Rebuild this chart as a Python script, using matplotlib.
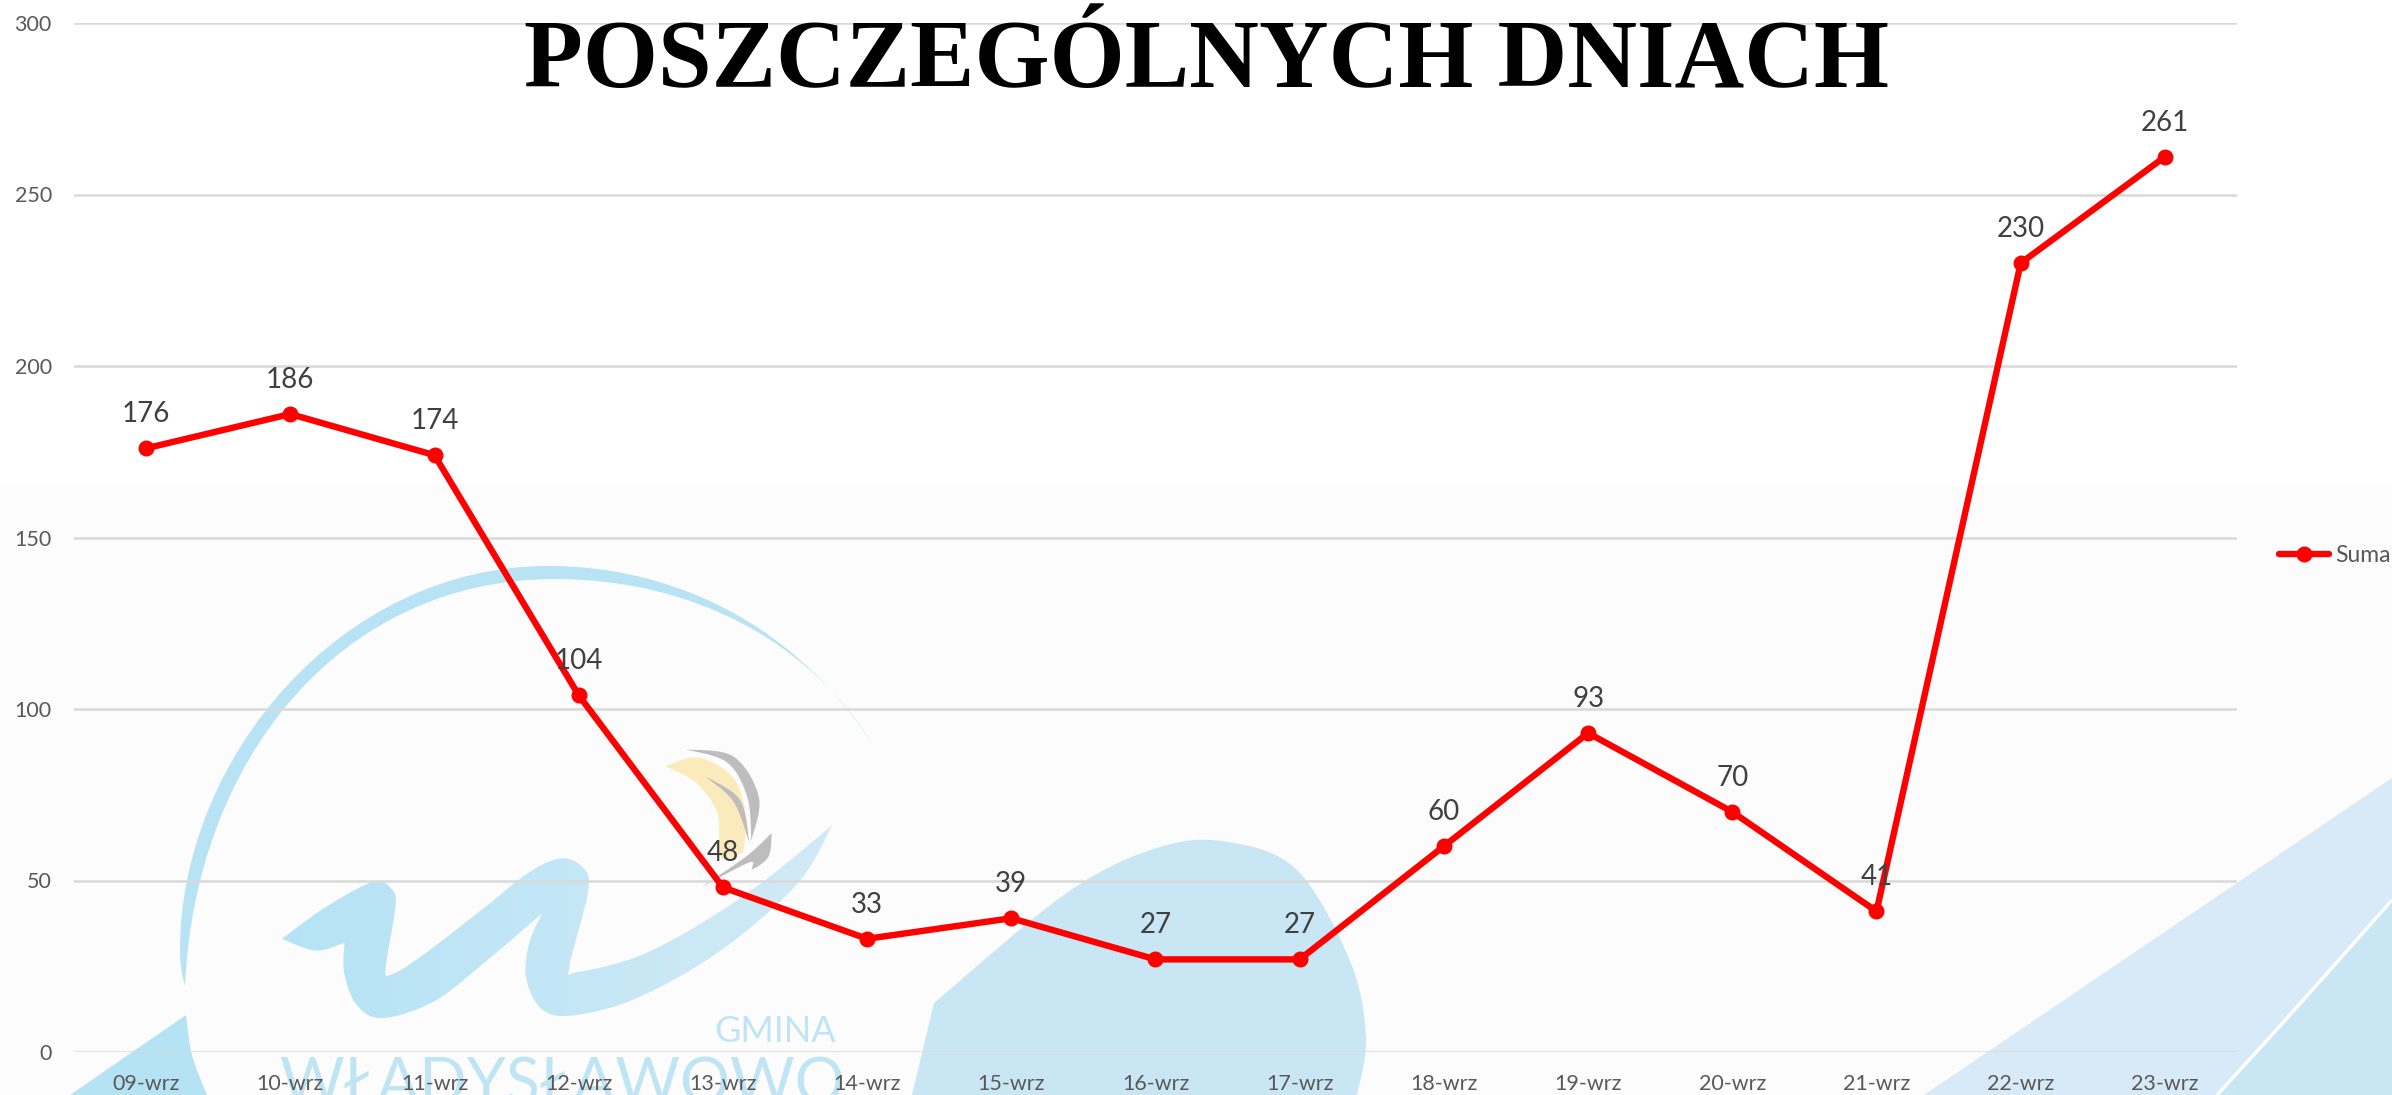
import numpy as np
import matplotlib.pyplot as plt
from matplotlib.patches import PathPatch, Polygon
from matplotlib.path import Path
from matplotlib.colors import LinearSegmentedColormap

FIG_W, FIG_H = 2392, 1095

days = ['09-wrz', '10-wrz', '11-wrz', '12-wrz', '13-wrz', '14-wrz', '15-wrz', '16-wrz',
        '17-wrz', '18-wrz', '19-wrz', '20-wrz', '21-wrz', '22-wrz', '23-wrz']
suma = [176, 186, 174, 104, 48, 33, 39, 27, 27, 60, 93, 70, 41, 230, 261]
y_ticks = [0, 50, 100, 150, 200, 250, 300]

title_text = 'POSZCZEGÓLNYCH DNIACH'
series_name = 'Suma'

plt.rcParams['font.family'] = ['Lato', 'DejaVu Sans']


def smooth(points, n=16):
    """Catmull-Rom through the points of an open stroke"""
    p = np.array([points[0]] + list(points) + [points[-1]], dtype=float)
    out = []
    for i in range(1, len(p) - 2):
        for t in np.linspace(0, 1, n, endpoint=False):
            out.append(0.5 * (2 * p[i] + (p[i + 1] - p[i - 1]) * t
                              + (2 * p[i - 1] - 5 * p[i] + 4 * p[i + 1] - p[i + 2]) * t ** 2
                              + (3 * p[i] - p[i - 1] - 3 * p[i + 1] + p[i + 2]) * t ** 3))
    out.append(p[-2])
    return out


def shape(*strokes):
    """Closed outline made of smooth strokes, corners stay where strokes meet"""
    verts = []
    for stroke in strokes:
        verts += smooth(stroke)
    return np.array(verts)


def zoom1(points):
    return [(x / 1.568, 480 + y / 2.55) for x, y in points]


def draw_watermark(bg):
    bg.add_patch(Polygon([(0, 485), (FIG_W, 485), (FIG_W, FIG_H), (0, FIG_H)], fc='#fcfcfc', ec='none'))

    # big crescent, beziers so it stays round
    crescent = [(874, 747),
                (800, 630), (680, 566), (548, 566),
                (340, 566), (180, 760), (180, 950),
                (180, 965), (182, 975), (185, 986),
                (195, 760), (340, 579), (555, 579),
                (690, 579), (810, 640), (874, 747)]
    codes = [Path.MOVETO] + [Path.CURVE4] * (len(crescent) - 1)
    bg.add_patch(PathPatch(Path(crescent, codes), fc='#b7e3f4', ec='none'))

    # wave shaped W, fading to the right
    w_pts = shape(
        zoom1([(442, 1170), (510, 1090), (585, 1025), (615, 1045), (620, 1090), (605, 1240), (612, 1262),
               (660, 1215), (760, 1090), (830, 1000), (880, 965), (915, 990), (922, 1050), (893, 1240),
               (905, 1255), (1000, 1215), (1100, 1130), (1200, 1020), (1305, 880)]),
        zoom1([(1305, 880), (1250, 1030), (1130, 1200), (1000, 1320), (900, 1365), (850, 1350),
               (825, 1270), (830, 1180), (850, 1105)]),
        zoom1([(850, 1105), (760, 1230), (680, 1330), (600, 1372), (560, 1340), (540, 1260), (540, 1180)]),
        zoom1([(540, 1180), (495, 1200), (442, 1170)]),
    )
    w_patch = Polygon(w_pts, fc='none', ec='none')
    bg.add_patch(w_patch)
    cmap = LinearSegmentedColormap.from_list('w', ['#b5e3f5', '#d2eaf6'])
    img = bg.imshow(np.linspace(0, 1, 256).reshape(1, -1), cmap=cmap, aspect='auto',
                    extent=(282, 833, 1018, 825), zorder=1)
    img.set_clip_path(w_patch)

    # sail
    sail = shape(zoom1([(1043, 730), (1095, 708), (1150, 760), (1170, 860), (1165, 950)]),
                 zoom1([(1165, 950), (1130, 960), (1125, 850), (1090, 770), (1043, 730)]))
    bg.add_patch(Polygon(sail, fc='#fbeabc', ec='none', zorder=2))
    arc1 = shape(zoom1([(1075, 687), (1150, 705), (1190, 810), (1178, 920)]),
                 zoom1([(1178, 920), (1172, 810), (1140, 720), (1075, 687)]))
    arc2 = shape(zoom1([(1105, 755), (1160, 815), (1175, 925)]),
                 zoom1([(1175, 925), (1150, 820), (1105, 755)]))
    swoosh = shape(zoom1([(1100, 1038), (1170, 960), (1210, 900)]),
                   zoom1([(1210, 900), (1205, 960), (1180, 992), (1175, 975), (1100, 1038)]))
    for pts in (arc1, arc2, swoosh):
        bg.add_patch(Polygon(pts, fc='#bdbdbd', ec='none', zorder=2))

    # hills along the bottom edge
    left = shape([(70, 1095), (186, 1015)], [(186, 1015), (192, 1055), (207, 1095)])
    bg.add_patch(Polygon(left, fc='#b5e3f4', ec='none'))
    middle = shape([(912, 1095), (934, 1003)],
                   [(934, 1003), (1068, 892), (1160, 847), (1228, 842), (1297, 870), (1350, 961),
                    (1366, 1037), (1357, 1095)])
    bg.add_patch(Polygon(middle, fc='#c9e6f5', ec='none'))
    right = Polygon([(1924, 1095), (2392, 778), (2392, 1095)], fc='#d8eaf7', ec='none')
    bg.add_patch(right)
    corner = shape([(2217, 1095), (2288, 1017), (2392, 900)])
    bg.add_patch(Polygon(np.vstack([corner, [(2392, 1095)]]), fc='#c9e6f5', ec='none'))
    bg.add_patch(PathPatch(Path(corner), fc='none', ec='white', lw=2.5))

    bg.text(775, 1042, 'GMINA', fontsize=26, color='#bfe5f5', ha='center', va='baseline')
    bg.text(562, 1103, 'WŁADYSŁAWOWO', fontsize=45, color='#bfe5f5', ha='center', va='baseline', clip_on=True)

    bg.set_xlim(0, FIG_W)
    bg.set_ylim(FIG_H, 0)
    bg.axis('off')


def main():
    fig = plt.figure(figsize=(FIG_W / 100, FIG_H / 100), dpi=100, facecolor='white')

    bg = fig.add_axes([0, 0, 1, 1], zorder=0)
    draw_watermark(bg)

    ax = fig.add_axes([74 / FIG_W, (FIG_H - 1052) / FIG_H, 2163 / FIG_W, 1029 / FIG_H], zorder=1)
    ax.patch.set_alpha(0)

    x = np.arange(len(days))
    ax.plot(x, suma, color='#ff0000', linewidth=4.6, marker='o', markersize=10.5, label=series_name,
            solid_capstyle='round', zorder=3)

    for xi, value in zip(x, suma):
        ax.annotate(str(value), (xi, value), xytext=(0, 24.5), textcoords='offset points',
                    ha='center', va='center', fontsize=20, color='#404040', zorder=4)

    ax.set_xlim(-0.5, len(days) - 0.5)
    ax.set_ylim(0, 300)
    ax.set_xticks(x)
    ax.set_xticklabels(days)
    ax.set_yticks(y_ticks)
    ax.tick_params(axis='x', length=0, pad=16, labelsize=15.5, labelcolor='#595959')
    ax.tick_params(axis='y', length=0, pad=16, labelsize=15.5, labelcolor='#595959')
    ax.grid(axis='y', color='#d9d9d9', linewidth=1.8)
    ax.set_axisbelow(True)
    for spine in ax.spines.values():
        spine.set_visible(False)

    fig.text(1206 / FIG_W, 1 - 87 / FIG_H, title_text, family='Liberation Serif', fontweight='bold',
             fontsize=69.5, color='black', ha='center', va='baseline', zorder=5)

    fig.legend(loc='center left', bbox_to_anchor=(2279 / FIG_W, 1 - 556 / FIG_H), frameon=False,
               fontsize=16.5, labelcolor='#595959', handlelength=2.2, handletextpad=0.25,
               borderpad=0, borderaxespad=0)

    plt.savefig('out.png', dpi=100)


if __name__ == "__main__":
    main()
